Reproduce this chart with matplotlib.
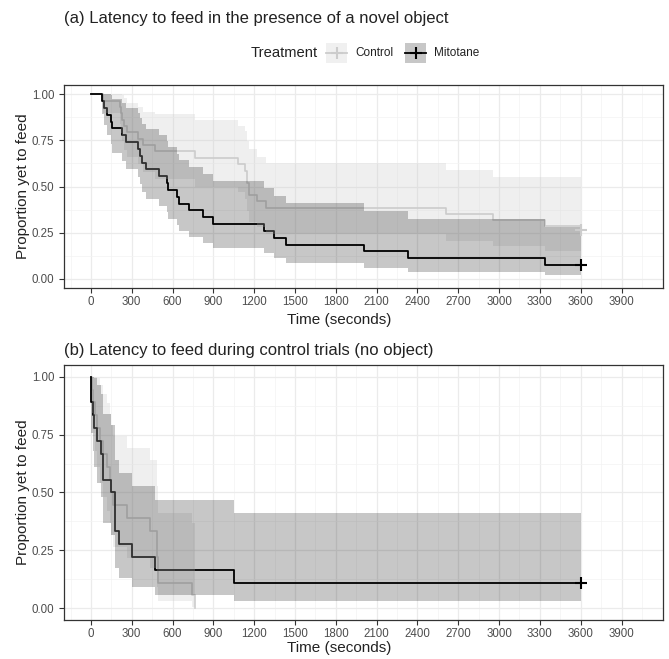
import matplotlib
matplotlib.use('Agg')
import matplotlib.pyplot as plt
from matplotlib.patches import Rectangle
from matplotlib.lines import Line2D

plt.rcParams['font.family'] = ['Liberation Sans', 'DejaVu Sans']

# ---- data ----
end_time = 3600

# (a) novel object trials
a_mit_time = [0, 78, 98, 115, 147, 152, 226, 255, 348, 361, 378, 405, 500, 557, 564,
              630, 650, 724, 822, 895, 1273, 1347, 1435, 2004, 2331, 3336]
a_mit_surv = [1.0, 0.963, 0.926, 0.889, 0.852, 0.815, 0.778, 0.741, 0.704, 0.667, 0.630,
              0.593, 0.556, 0.519, 0.481, 0.444, 0.407, 0.370, 0.333, 0.296, 0.259, 0.222,
              0.185, 0.148, 0.111, 0.074]
a_mit_lower = [1.0, 0.894, 0.832, 0.778, 0.728, 0.681, 0.636, 0.593, 0.551, 0.511, 0.472,
               0.434, 0.397, 0.361, 0.325, 0.291, 0.259, 0.226, 0.196, 0.166, 0.137, 0.110,
               0.084, 0.060, 0.038, 0.020]
a_mit_upper = [1.0, 1.0, 1.0, 1.0, 0.997, 0.975, 0.951, 0.926, 0.899, 0.870, 0.840, 0.810,
               0.778, 0.746, 0.712, 0.677, 0.641, 0.605, 0.567, 0.530, 0.491, 0.449, 0.408,
               0.366, 0.323, 0.280]

a_con_time = [0, 90, 213, 220, 225, 240, 262, 348, 385, 471, 765, 1084, 1133, 1150, 1165,
              1217, 1290, 2613, 2956, 3336, 3600]
a_con_surv = [1.0, 0.966, 0.931, 0.897, 0.862, 0.828, 0.793, 0.759, 0.724, 0.690, 0.655,
              0.621, 0.586, 0.517, 0.455, 0.420, 0.384, 0.350, 0.316, 0.286, 0.262]
a_con_lower = [1.0, 0.90, 0.84, 0.79, 0.745, 0.70, 0.66, 0.62, 0.58, 0.54, 0.50, 0.47, 0.43,
               0.365, 0.31, 0.28, 0.24, 0.205, 0.178, 0.15, 0.15]
a_con_upper = [1.0, 1.0, 1.0, 1.0, 0.997, 0.978, 0.955, 0.93, 0.905, 0.893, 0.86, 0.83, 0.80,
               0.749, 0.704, 0.662, 0.626, 0.59, 0.554, 0.554, 0.554]

# (b) control trials
b_mit_time = [0, 3, 15, 24, 45, 72, 86, 150, 175, 205, 299, 470, 1053]
b_mit_surv = [1.0, 0.889, 0.833, 0.778, 0.722, 0.667, 0.556, 0.500, 0.333, 0.278, 0.222,
              0.167, 0.111]
b_mit_lower = [1.0, 0.755, 0.678, 0.608, 0.542, 0.481, 0.368, 0.315, 0.173, 0.132, 0.094,
               0.059, 0.030]
b_mit_upper = [1.0, 1.0, 1.0, 0.996, 0.962, 0.924, 0.840, 0.793, 0.640, 0.585, 0.527,
               0.469, 0.410]

b_con_time = [0, 8, 17, 29, 45, 66, 86, 120, 140, 147, 165, 262, 433, 482, 495, 740, 764]
b_con_surv = [1.0, 0.944, 0.889, 0.833, 0.778, 0.722, 0.667, 0.611, 0.556, 0.500, 0.444,
              0.389, 0.333, 0.222, 0.111, 0.056, 0.0]
b_con_lower = [1.0, 0.844, 0.755, 0.678, 0.608, 0.542, 0.481, 0.422, 0.368, 0.315, 0.265,
               0.218, 0.173, 0.094, 0.030, 0.008, 0.0]
b_con_upper = [1.0, 1.0, 1.0, 1.0, 0.996, 0.962, 0.924, 0.884, 0.840, 0.793, 0.745, 0.694,
               0.640, 0.527, 0.410, 0.370, 0.0]

x_ticks = list(range(0, 4000, 300))
y_ticks = [0.0, 0.25, 0.5, 0.75, 1.0]
y_ticklabels = ['0.00', '0.25', '0.50', '0.75', '1.00']

titles = ['(a) Latency to feed in the presence of a novel object',
          '(b) Latency to feed during control trials (no object)']
groups = ['Control', 'Mitotane']

# colours
con_color = '#CCCCCC'
mit_color = '#000000'
con_alpha = 0.3
mit_alpha = 0.22

W, H = 669, 659
fig = plt.figure(figsize=(W / 100, H / 100), dpi=100)


def px_axes(left, top, right, bottom):
    return fig.add_axes([left / W, 1 - bottom / H, (right - left) / W, (bottom - top) / H])


def draw_km(ax, t, s, lo, hi, color, alpha, lw, extend=True, censor=False):
    t, s, lo, hi = list(t), list(s), list(lo), list(hi)
    if extend and t[-1] < end_time:
        t.append(end_time)
        s.append(s[-1])
        lo.append(lo[-1])
        hi.append(hi[-1])
    ax.step(t, s, where='post', color=color, lw=lw, zorder=3)
    # ribbons go on top of the lines, like ggsurvplot does
    ax.fill_between(t, lo, hi, step='post', color=color, alpha=alpha, lw=0, zorder=4)
    if censor:
        ax.plot([t[-1]], [s[-1]], marker='+', color=color, ms=9, mew=1.5, zorder=5)


def style_axes(ax):
    ax.set_xlim(-198, 4205)
    ax.set_ylim(-0.05, 1.05)
    ax.set_xticks(x_ticks)
    ax.set_xticks([v + 150 for v in [-300] + x_ticks], minor=True)
    ax.set_yticks(y_ticks)
    ax.set_yticklabels(y_ticklabels)
    ax.set_yticks([0.125, 0.375, 0.625, 0.875], minor=True)
    ax.grid(True, which='major', color='#EBEBEB', lw=0.9, zorder=0)
    ax.grid(True, which='minor', color='#F3F3F3', lw=0.5, zorder=0)
    ax.set_axisbelow(True)
    ax.tick_params(which='major', length=3.5, width=0.8, color='#333333',
                   labelsize=8.3, labelcolor='#4D4D4D')
    ax.tick_params(axis='x', pad=2.5)
    ax.tick_params(axis='y', pad=3.5)
    ax.tick_params(which='minor', length=0)
    for sp in ax.spines.values():
        sp.set_color('#333333')
        sp.set_linewidth(0.9)


ax_a = px_axes(64, 85, 663, 288)
ax_b = px_axes(64, 365, 663, 620)

# panel a
draw_km(ax_a, a_con_time, a_con_surv, a_con_lower, a_con_upper, con_color, con_alpha, 1.2, censor=True)
draw_km(ax_a, a_mit_time, a_mit_surv, a_mit_lower, a_mit_upper, mit_color, mit_alpha, 1.3, censor=True)
style_axes(ax_a)

# panel b (control group all fed before the end, no extension)
draw_km(ax_b, b_con_time, b_con_surv, b_con_lower, b_con_upper, con_color, con_alpha, 1.2, extend=False)
draw_km(ax_b, b_mit_time, b_mit_surv, b_mit_lower, b_mit_upper, mit_color, mit_alpha, 1.3, censor=True)
style_axes(ax_b)

# titles and axis labels
fig.text(64 / W, 1 - 18 / H, titles[0], ha='left', va='center', fontsize=12, color='#222222')
fig.text(64 / W, 1 - 350 / H, titles[1], ha='left', va='center', fontsize=12, color='#222222')
for yc in [186, 492]:
    fig.text(23 / W, 1 - yc / H, 'Proportion yet to feed', rotation=90,
             ha='center', va='center', fontsize=11, color='#222222')
for yc in [320, 648]:
    fig.text(339 / W, 1 - yc / H, 'Time (seconds)', ha='center', va='center',
             fontsize=11, color='#222222')

# legend, drawn by hand in figure pixels
leg_y = 53
fig.text(318 / W, 1 - leg_y / H, 'Treatment', ha='right', va='center', fontsize=10.6, color='#222222')
key_x = [326, 405]
key_fill = ['#F0F0F0', '#C7C7C7']
key_line = [con_color, mit_color]
for x0, fc, lc, lab in zip(key_x, key_fill, key_line, groups):
    fig.add_artist(Rectangle((x0 / W, 1 - (leg_y + 10) / H), 21 / W, 20 / H,
                             transform=fig.transFigure, facecolor=fc, edgecolor='none'))
    fig.add_artist(Line2D([x0 / W, (x0 + 21) / W], [1 - leg_y / H] * 2,
                          transform=fig.transFigure, color=lc, lw=1.3))
    fig.add_artist(Line2D([(x0 + 10.5) / W], [1 - leg_y / H], transform=fig.transFigure,
                          color=lc, marker='+', ms=9, mew=1.5))
    fig.text((x0 + 29) / W, 1 - leg_y / H, lab, ha='left', va='center',
             fontsize=8.5, color='#222222')

fig.savefig('out.png', dpi=100)
